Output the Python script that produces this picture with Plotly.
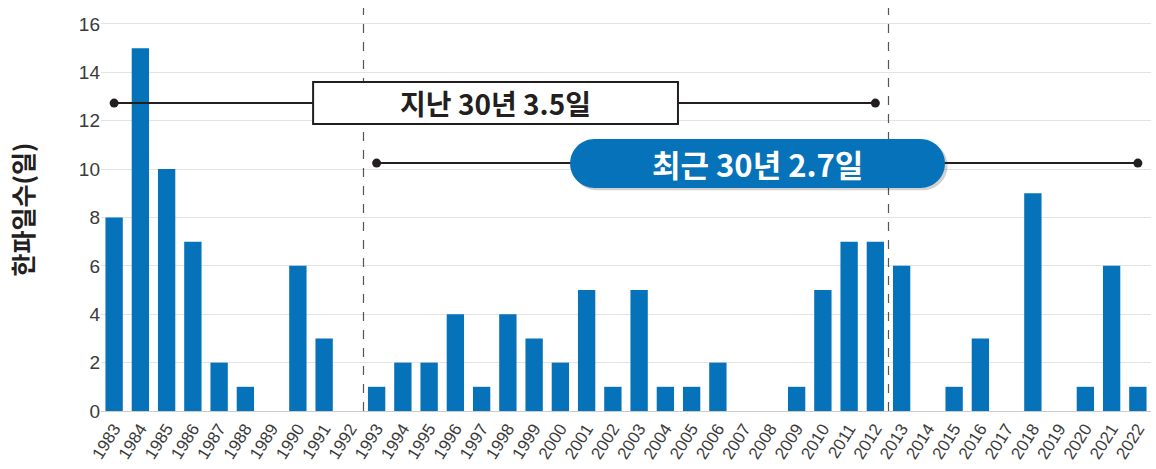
import plotly.graph_objects as go

years = list(range(1983, 2023))
cold_days = [8, 15, 10, 7, 2, 1, 0, 6, 3, 0,
             1, 2, 2, 4, 1, 4, 3, 2, 5, 1,
             5, 1, 1, 2, 0, 0, 1, 5, 7, 7,
             6, 0, 1, 3, 0, 9, 0, 1, 6, 1]

past_label = "지난 30년 3.5일"
recent_label = "최근 30년 2.7일"
past_span = [1983, 2012]
recent_span = [1993, 2022]
past_y = 12.73
recent_y = 10.25
dividers = [1992.5, 2012.5]

BLUE = "#0572B9"
DARK = "#231F20"

fig = go.Figure()
fig.add_trace(go.Bar(x=years, y=cold_days, marker_color=BLUE, width=0.66,
                     marker_line_width=0, showlegend=False, hoverinfo="skip"))

fig.add_trace(go.Scatter(x=past_span, y=[past_y, past_y], mode="lines+markers",
                         line=dict(color=DARK, width=2), marker=dict(size=9, color=DARK),
                         showlegend=False, hoverinfo="skip"))
fig.add_trace(go.Scatter(x=recent_span, y=[recent_y, recent_y], mode="lines+markers",
                         line=dict(color=DARK, width=2), marker=dict(size=9, color=DARK),
                         showlegend=False, hoverinfo="skip"))

shapes = []
for d in dividers:
    shapes.append(dict(type="line", xref="x", yref="paper", x0=d, x1=d, y0=0, y1=1,
                       line=dict(color="#555555", width=1.2, dash="dash"), layer="above"))

shapes.append(dict(type="rect", xref="x", yref="y", x0=1990.58, x1=2004.48, y0=11.86, y1=13.60,
                   fillcolor="white", line=dict(color=DARK, width=2), layer="above"))


def rr(x0, x1, y0, y1, rx, ry):
    c = 0.5523
    return (f"M {x0+rx},{y0} L {x1-rx},{y0} C {x1-rx+rx*c},{y0} {x1},{y0+ry-ry*c} {x1},{y0+ry} "
            f"L {x1},{y1-ry} C {x1},{y1-ry+ry*c} {x1-rx+rx*c},{y1} {x1-rx},{y1} "
            f"L {x0+rx},{y1} C {x0+rx-rx*c},{y1} {x0},{y1-ry+ry*c} {x0},{y1-ry} "
            f"L {x0},{y0+ry} C {x0},{y0+ry-ry*c} {x0+rx-rx*c},{y0} {x0+rx},{y0} Z")


shapes.append(dict(type="path", xref="x", yref="y",
                   path=rr(2000.45, 2014.75, 9.13, 11.15, 0.93, 1.01),
                   fillcolor="rgba(0,0,0,0.18)", line=dict(width=0), layer="above"))
shapes.append(dict(type="path", xref="x", yref="y",
                   path=rr(2000.37, 2014.65, 9.22, 11.24, 0.93, 1.01),
                   fillcolor=BLUE, line=dict(width=0), layer="above"))

annotations = [
    dict(x=1997.53, y=past_y, xref="x", yref="y", text=f"<b>{past_label}</b>", showarrow=False,
         font=dict(family="Noto Sans CJK KR", size=28, color=DARK)),
    dict(x=2007.5, y=recent_y, xref="x", yref="y", text=f"<b>{recent_label}</b>", showarrow=False,
         font=dict(family="Noto Sans CJK KR", size=31, color="white")),
]

fig.update_layout(
    width=1156, height=469,
    margin=dict(l=101, r=5, t=8, b=58),
    plot_bgcolor="white", paper_bgcolor="white",
    shapes=shapes, annotations=annotations,
    font=dict(family="Liberation Sans", color="#333333"),
)
fig.update_xaxes(range=[1982.5, 2022.5], tickmode="array", tickvals=years,
                 ticktext=[str(y) for y in years], tickangle=-58,
                 tickfont=dict(size=17, color="#3a3a3a"), showgrid=False, automargin=False,
                 showline=True, linecolor="#cccccc", linewidth=1, ticks="", zeroline=False)
fig.update_yaxes(range=[0, 16.66], tickvals=list(range(0, 17, 2)), automargin=False,
                 tickfont=dict(size=19, color="#3a3a3a"), gridcolor="#e3e3e3", gridwidth=1,
                 zeroline=False, ticks="", ticklen=0,
                 title=dict(text="<b>한파일수(일)</b>", standoff=38,
                            font=dict(family="Noto Sans CJK KR", size=25, color=DARK)))

fig.write_html("out.html", post_script="document.body.style.margin='0';",
               config={"displayModeBar": False})
